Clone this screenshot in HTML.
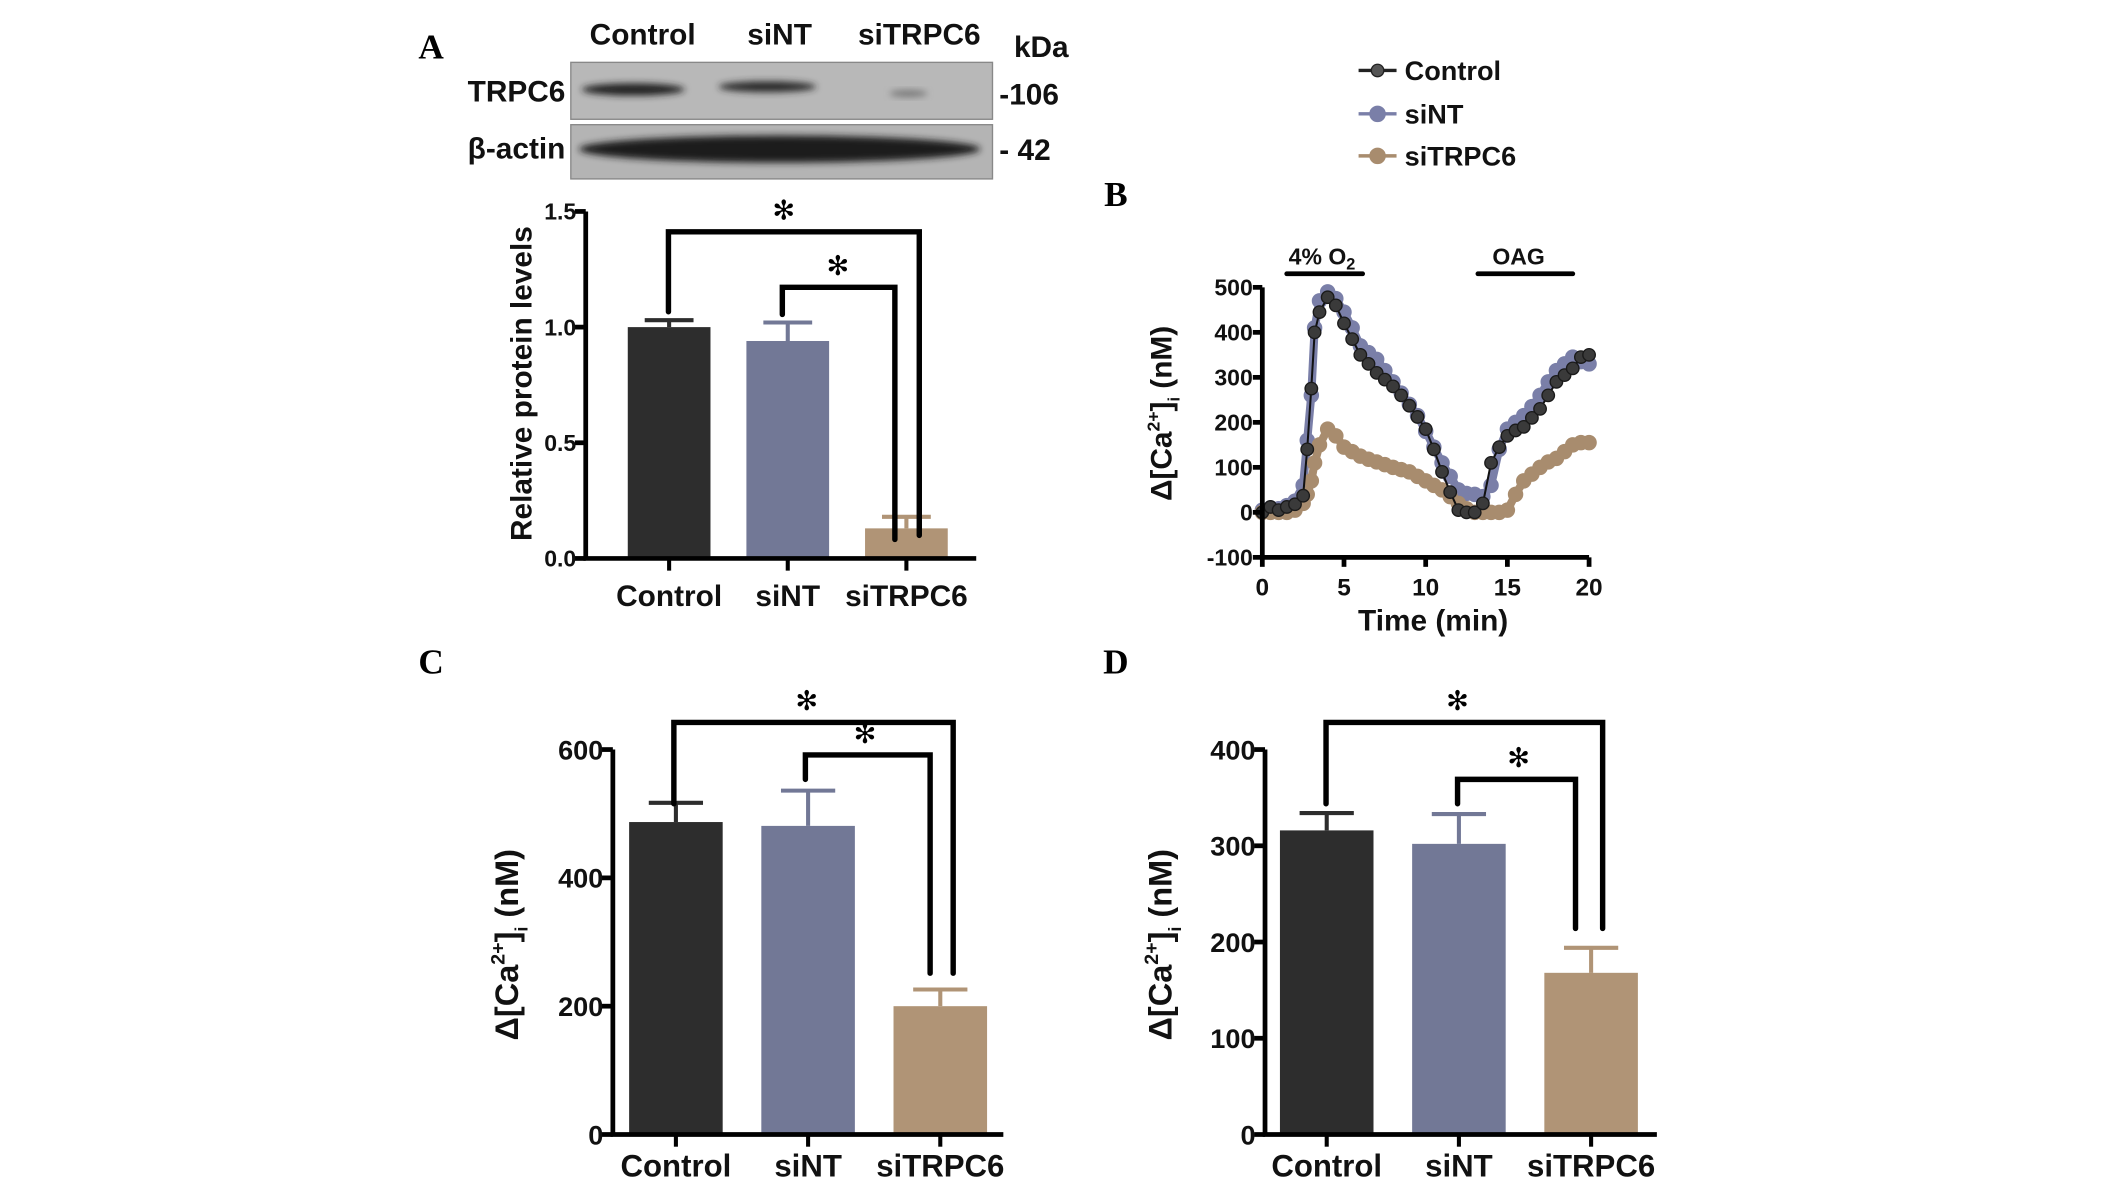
<!DOCTYPE html>
<html><head><meta charset="utf-8"><style>
html,body{margin:0;padding:0;background:#fff;}
svg{display:block;font-family:"Liberation Sans",sans-serif;}
</style></head><body>
<svg id="fig" width="2126" height="1186" viewBox="0 0 1568 875" preserveAspectRatio="none" xmlns="http://www.w3.org/2000/svg">
<defs>
<filter id="blur" x="-20%" y="-60%" width="140%" height="220%"><feGaussianBlur stdDeviation="2.5"/></filter>
</defs>
<g>
<text x="318" y="43" font-family="Liberation Serif" font-weight="bold" font-size="26" text-anchor="middle">A</text>
<text x="474" y="33" font-size="22" font-weight="bold" text-anchor="middle" fill="#111">Control</text>
<text x="575" y="33" font-size="22" font-weight="bold" text-anchor="middle" fill="#111">siNT</text>
<text x="678" y="33" font-size="22" font-weight="bold" text-anchor="middle" fill="#111">siTRPC6</text>
<text x="768" y="42" font-size="22" font-weight="bold" text-anchor="middle" fill="#111">kDa</text>
<text x="417" y="75" font-size="22" font-weight="bold" text-anchor="end" fill="#111">TRPC6</text>
<text x="417" y="117" font-size="22" font-weight="bold" text-anchor="end" fill="#111">β-actin</text>
<text x="737" y="77" font-size="22" font-weight="bold" fill="#111">-106</text>
<text x="737" y="118" font-size="22" font-weight="bold" fill="#111">- 42</text>
<rect x="421" y="46" width="311" height="42" fill="#b8b8b8" stroke="#888"/>
<ellipse cx="467" cy="66" rx="38" ry="4.5" fill="#222" filter="url(#blur)"/>
<ellipse cx="566" cy="64" rx="36" ry="4" fill="#2a2a2a" filter="url(#blur)"/>
<ellipse cx="670" cy="69" rx="14" ry="2.5" fill="#777" filter="url(#blur)"/>
<rect x="421" y="92" width="311" height="40" fill="#b4b4b4" stroke="#888"/>
<ellipse cx="575" cy="110" rx="148" ry="10" fill="#1e1e1e" filter="url(#blur)"/>
</g>
<g id="pa"></g><g id="pb"></g><g id="pc"></g><g id="pd"></g>
</svg>
<script>
const NS="http://www.w3.org/2000/svg";
const groups=["Control","siNT","siTRPC6"];
const barColors=["#2d2d2d","#727896","#b09476"];
const aValues=[1.0,0.94,0.13];
const aErrors=[0.03,0.08,0.05];
const aTicks=["0.0","0.5","1.0","1.5"];
const cValues=[487,481,200];
const cErrors=[30,55,26];
const cTicks=["0","200","400","600"];
const dValues=[316,302,168];
const dErrors=[18,31,26];
const dTicks=["0","100","200","300","400"];
const bTimes=[0,0.5,1,1.5,2,2.5,2.75,3,3.2,3.5,4,4.5,5,5.5,6,6.5,7,7.5,8,8.5,9,9.5,10,10.5,11,11.5,12,12.5,13,13.5,14,14.5,15,15.5,16,16.5,17,17.5,18,18.5,19,19.5,20];
const bControl=[0,12,5,12,18,37,140,275,400,445,478,460,420,385,350,330,310,295,280,260,237,212,185,140,90,45,5,0,0,20,110,145,170,182,190,210,230,260,290,305,320,345,350];
const bSiNT=[5,10,8,15,25,60,160,260,410,470,490,475,445,410,370,355,340,315,290,265,240,215,180,145,110,80,50,42,40,35,60,140,185,200,215,235,260,290,315,330,345,335,330];
const bSiTRPC6=[0,0,0,0,5,20,40,70,110,150,185,170,145,135,125,118,112,106,100,95,90,80,70,60,50,35,20,8,0,0,0,0,5,40,70,85,100,112,120,135,150,155,155];
const bYTicks=["-100","0","100","200","300","400","500"];
const bXTicks=["0","5","10","15","20"];
const seriesColors=["#3a3a3a","#7a7fa8","#a88c6e"];

function mk(parent,tag,attrs,text){const e=document.createElementNS(NS,tag);for(const k in attrs)e.setAttribute(k,attrs[k]);if(text!==undefined)e.textContent=text;parent.appendChild(e);return e;}

function barPanel(gid,cfg,values,errors,ticks){
  const g=document.getElementById(gid);
  const y=v=>cfg.y0-v*(cfg.y0-cfg.yTop)/cfg.max;
  const bx=i=>cfg.bar0+i*cfg.step;
  values.forEach((v,i)=>{
    const r=mk(g,"rect",{x:bx(i),y:y(v),width:cfg.bw,height:cfg.y0-y(v),fill:barColors[i]});
    
    
    const cx=bx(i)+cfg.bw/2;
    const e=mk(g,"path",{d:`M${cx},${y(v)}V${y(v+errors[i])}M${cx-cfg.cap},${y(v+errors[i])}H${cx+cfg.cap}`,stroke:barColors[i],"stroke-width":3,fill:"none"});
    
    
    const tk=mk(g,"line",{x1:cx,x2:cx,y1:cfg.y0,y2:cfg.y0+9,stroke:"#000","stroke-width":3});
    
    
    const tl=mk(g,"text",{x:cx,y:cfg.y0+cfg.xlOff,"font-size":cfg.xfs,"font-weight":"bold","text-anchor":"middle",fill:"#111"},groups[i]);
    
    
  });
  const ax=mk(g,"path",{d:`M${cfg.ax},${cfg.yTop}V${cfg.y0}H${cfg.axEnd}`,stroke:"#000","stroke-width":3.5,fill:"none"});
  
  
  ticks.forEach(t=>{
    const v=parseFloat(t);
    const l=mk(g,"line",{x1:cfg.ax-8,x2:cfg.ax,y1:y(v),y2:y(v),stroke:"#000","stroke-width":3.5});
    
    
    const tx=mk(g,"text",{x:cfg.ax-7,y:y(v)+cfg.yfs*0.36,"font-size":cfg.yfs,"font-weight":"bold","text-anchor":"end",fill:"#111"},t);
    
    
  });
  cfg.brackets.forEach(b=>{
    const p=mk(g,"path",{d:`M${b[0]},${b[3]}V${b[2]}H${b[1]}V${b[4]}`,stroke:"#000","stroke-width":4,fill:"none","stroke-linecap":"round"});
    
    
    const s=mk(g,"text",{x:b[5],y:b[2]-9,"font-size":20,"text-anchor":"middle",fill:"#000","font-family":"DejaVu Sans"},"✻");
    
    
  });
  const tt=mk(g,"text",{transform:`translate(${cfg.tx},${cfg.ty}) rotate(-90)`,"font-size":cfg.tfs,"font-weight":"bold","text-anchor":"middle",fill:"#111"});
  
  
  if(cfg.title){tt.textContent=cfg.title;}
  else{tt.innerHTML='Δ[Ca<tspan font-size="'+(cfg.tfs*0.6)+'" dy="-10">2+</tspan><tspan dy="10">]</tspan><tspan font-size="'+(cfg.tfs*0.55)+'" dy="7">i</tspan><tspan dy="-7"> (nM)</tspan>';}
  if(cfg.letter){const L=mk(g,"text",{x:cfg.letter[0],y:cfg.letter[1],"font-family":"Liberation Serif","font-weight":"bold","font-size":26,"text-anchor":"middle"},cfg.letter[2]);
    
    }
}

barPanel("pa",{y0:412,yTop:156,max:1.5,ax:432,axEnd:720,bar0:463,step:87.5,bw:61,cap:18,xlOff:35,xfs:22,yfs:17,tx:392,ty:283,tfs:22,title:"Relative protein levels",
  brackets:[[493,678,171,230,395,578],[577,660,212,232,398,618]]},aValues,aErrors,aTicks);
barPanel("pc",{y0:837,yTop:553,max:600,ax:452,axEnd:740,bar0:464,step:97.5,bw:69,cap:20,xlOff:31,xfs:23,yfs:20,tx:382,ty:697,tfs:24,letter:[318,497,"C"],
  brackets:[[497,703,533,593,718,595],[594,686,557,575,718,638]]},cValues,cErrors,cTicks);
barPanel("pd",{y0:837,yTop:553,max:400,ax:933,axEnd:1222,bar0:944,step:97.5,bw:69,cap:20,xlOff:31,xfs:23,yfs:20,tx:864,ty:697,tfs:24,letter:[823,497,"D"],
  brackets:[[978,1182,533,593,685,1075],[1075,1162,575,593,685,1120]]},dValues,dErrors,dTicks);

(function(){
  const g=document.getElementById("pb");
  const X=t=>931+t*12.05;
  const Y=v=>378-v*0.332;
  const L=mk(g,"text",{x:823,y:152,"font-family":"Liberation Serif","font-weight":"bold","font-size":26,"text-anchor":"middle"},"B");
  
  
  const data=[bControl,bSiNT,bSiTRPC6];
  [1,2,0].forEach(si=>{
    const vals=data[si];
    const col=seriesColors[si];
    const d=vals.map((v,i)=>(i?"L":"M")+X(bTimes[i]).toFixed(1)+","+Y(v).toFixed(1)).join("");
    const p=mk(g,"path",{d:d,stroke:si==0?"#111":col,"stroke-width":si==0?1.5:6,fill:"none","stroke-linejoin":"round"});
    
    
    vals.forEach((v,i)=>{
      const c=mk(g,"circle",{cx:X(bTimes[i]),cy:Y(v),r:si==0?4.6:5.2,fill:col,stroke:si==0?"#1a1a1a":col,"stroke-width":1});
      
      
    });
  });
  const ax=mk(g,"path",{d:`M${X(0)},${Y(500)}V${Y(-100)}H${X(20)}`,stroke:"#000","stroke-width":3.5,fill:"none"});
  
  
  bYTicks.forEach(t=>{
    const v=+t;
    const l=mk(g,"line",{x1:X(0)-7,x2:X(0),y1:Y(v),y2:Y(v),stroke:"#000","stroke-width":3.5});
    
    
    const tx=mk(g,"text",{x:X(0)-7,y:Y(v)+6,"font-size":17,"font-weight":"bold","text-anchor":"end",fill:"#111"},t);
    
    
  });
  bXTicks.forEach(t=>{
    const v=+t;
    const l=mk(g,"line",{x1:X(v),x2:X(v),y1:Y(-100),y2:Y(-100)+7,stroke:"#000","stroke-width":3.5});
    
    
    const tx=mk(g,"text",{x:X(v),y:Y(-100)+28,"font-size":18,"font-weight":"bold","text-anchor":"middle",fill:"#111"},t);
    
    
  });
  const xt=mk(g,"text",{x:1057,y:465,"font-size":22,"font-weight":"bold","text-anchor":"middle",fill:"#111"},"Time (min)");
  
  
  const yt=mk(g,"text",{transform:"translate(864,305) rotate(-90)","font-size":22,"font-weight":"bold","text-anchor":"middle",fill:"#111"});
  yt.innerHTML='Δ[Ca<tspan font-size="13" dy="-9">2+</tspan><tspan dy="9">]</tspan><tspan font-size="12" dy="6">i</tspan><tspan dy="-6"> (nM)</tspan>';
  
  
  const o2=mk(g,"path",{d:"M949,202H1005M1090,202H1160",stroke:"#000","stroke-width":3.5,fill:"none","stroke-linecap":"round"});
  
  
  const t1=mk(g,"text",{x:975,y:195,"font-size":17,"font-weight":"bold","text-anchor":"middle",fill:"#111"});
  t1.innerHTML='4% O<tspan font-size="12" dy="4">2</tspan>';
  
  
  const t2=mk(g,"text",{x:1120,y:195,"font-size":17,"font-weight":"bold","text-anchor":"middle",fill:"#111"},"OAG");
  
  
  const ly=[52,84,115];
  groups.forEach((n,i)=>{
    const l=mk(g,"line",{x1:1002,x2:1030,y1:ly[i],y2:ly[i],stroke:i==0?"#222":seriesColors[i],"stroke-width":2.5});
    
    
    const c=mk(g,"circle",{cx:1016,cy:ly[i],r:i==0?4.6:5.6,fill:i==0?"#555":seriesColors[i],stroke:i==0?"#222":seriesColors[i]});
    
    
    const t=mk(g,"text",{x:1036,y:ly[i]+7,"font-size":20,"font-weight":"bold",fill:"#111"},n);
    
    
  });
})();
</script>
</body></html>
